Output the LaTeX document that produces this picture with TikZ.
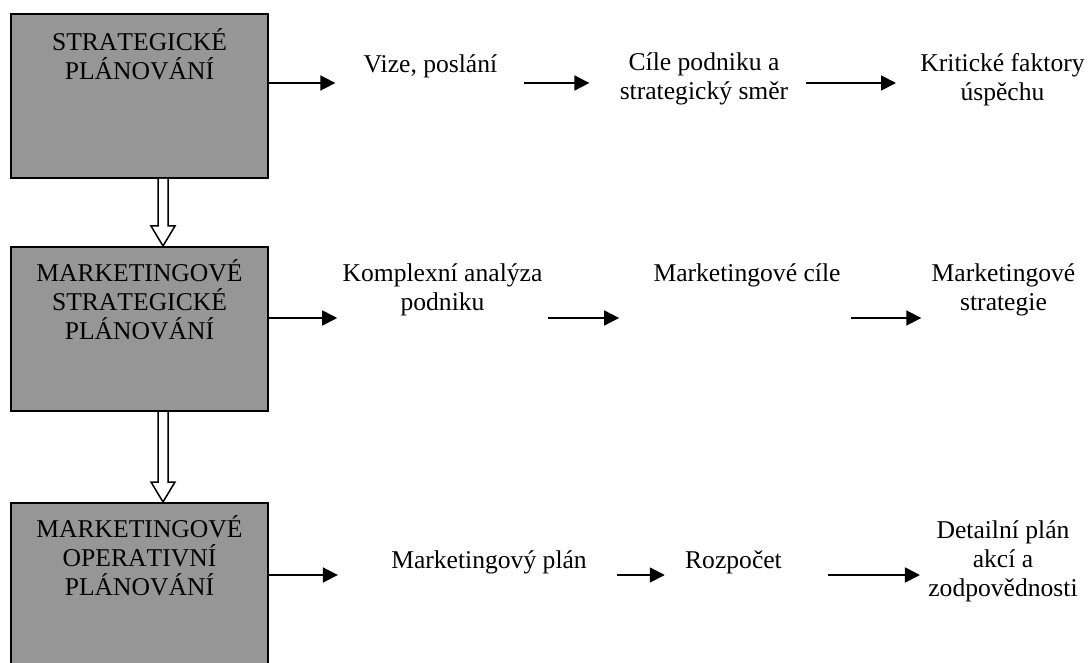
\documentclass[tikz,border=0pt]{standalone}
\usepackage{fontspec}
\setmainfont{Liberation Serif}
\newfontfamily\phasefont[Kerning=Off]{Liberation Serif}
\usetikzlibrary{positioning,calc,arrows.meta}
\definecolor{boxgray}{RGB}{150,150,150}

\begin{document}
\begin{tikzpicture}[x=0.5pt,y=-0.5pt,
    phase/.style={draw=black,line width=1pt,fill=boxgray,minimum width=128.5pt,minimum height=82pt,inner sep=0pt},
    phasetext/.style={align=center,inner sep=0pt,font=\phasefont\fontsize{12.8pt}{14.5pt}\selectfont},
    item/.style={align=center,inner sep=0pt,anchor=north,font=\fontsize{12.8pt}{14.5pt}\selectfont},
    flow/.style={line width=0.9pt,-{Triangle[length=7.5pt,width=7.5pt]}},
    hollow/.style={draw=black,line width=0.75pt,fill=white}]
    \useasboundingbox (0,0) rectangle (1091,663);
    \clip (0,0) rectangle (1091,663);

    % planning levels
    \node[phase] (strat) at (139.5,96) {};
    \node[phase] (mstrat) at (139.5,329) {};
    \node[phase] (moper) at (139.5,585) {};
    \node[phasetext,below=7.5pt of strat.north] (strattext) {STRATEGICKÉ\\PLÁNOVÁNÍ};
    \node[phasetext,below=6.5pt of mstrat.north] (mstrattext) {MARKETINGOVÉ\\STRATEGICKÉ\\PLÁNOVÁNÍ};
    \node[phasetext,below=6.5pt of moper.north] (mopertext) {MARKETINGOVÉ\\OPERATIVNÍ\\PLÁNOVÁNÍ};

    % hollow arrows between the levels
    \foreach \a/\b in {strat/mstrat,mstrat/moper} {
        \coordinate (top) at ([xshift=11.75pt]\a.south);
        \coordinate (tip) at (top |- \b.north);
        \draw[hollow] ($(top)+(-2.5pt,0)$) -- ($(tip)+(-2.5pt,10pt)$) -- ($(tip)+(-6pt,10pt)$)
          -- (tip) -- ($(tip)+(6pt,10pt)$) -- ($(tip)+(2.5pt,10pt)$) -- ($(top)+(2.5pt,0)$);
      }

    % steps of each level
    \node[item] (vize) at (430.5,54) {Vize, poslání};
    \node[item] (cile) at (704,52) {Cíle podniku a\\strategický směr};
    \node[item] (faktory) at (1002.5,53) {Kritické faktory\\úspěchu};
    \node[item] (analyza) at (442.5,263) {Komplexní analýza\\podniku};
    \node[item] (mcile) at (747,263) {Marketingové cíle};
    \node[item] (mstrategie) at (1003.5,263) {Marketingové\\strategie};
    \node[item] (plan) at (489,550) {Marketingový plán};
    \node[item] (rozpocet) at (733.5,550) {Rozpočet};
    \node[item] (detail) at (1003,520) {Detailní plán\\akcí a\\zodpovědnosti};

    % arrows along each row
    \coordinate (r1) at (0,83);
    \coordinate (r2) at (0,318);
    \coordinate (r3) at (0,575);
    \foreach \a/\b/\s/\e/\r in {strat/vize/0pt/14pt/r1, vize/cile/13pt/15pt/r1, cile/faktory/8.5pt/12pt/r1,
        mstrat/analyza/0pt/2.5pt/r2, analyza/mcile/2.5pt/17pt/r2, mcile/mstrategie/5pt/5pt/r2,
        moper/plan/0pt/26.5pt/r3, plan/rozpocet/15pt/10pt/r3, rozpocet/detail/23pt/4pt/r3} {
        \draw[flow,shorten <=\s,shorten >=\e] (\a.east |- \r) -- (\b.west |- \r);
      }
  \end{tikzpicture}
\end{document}
